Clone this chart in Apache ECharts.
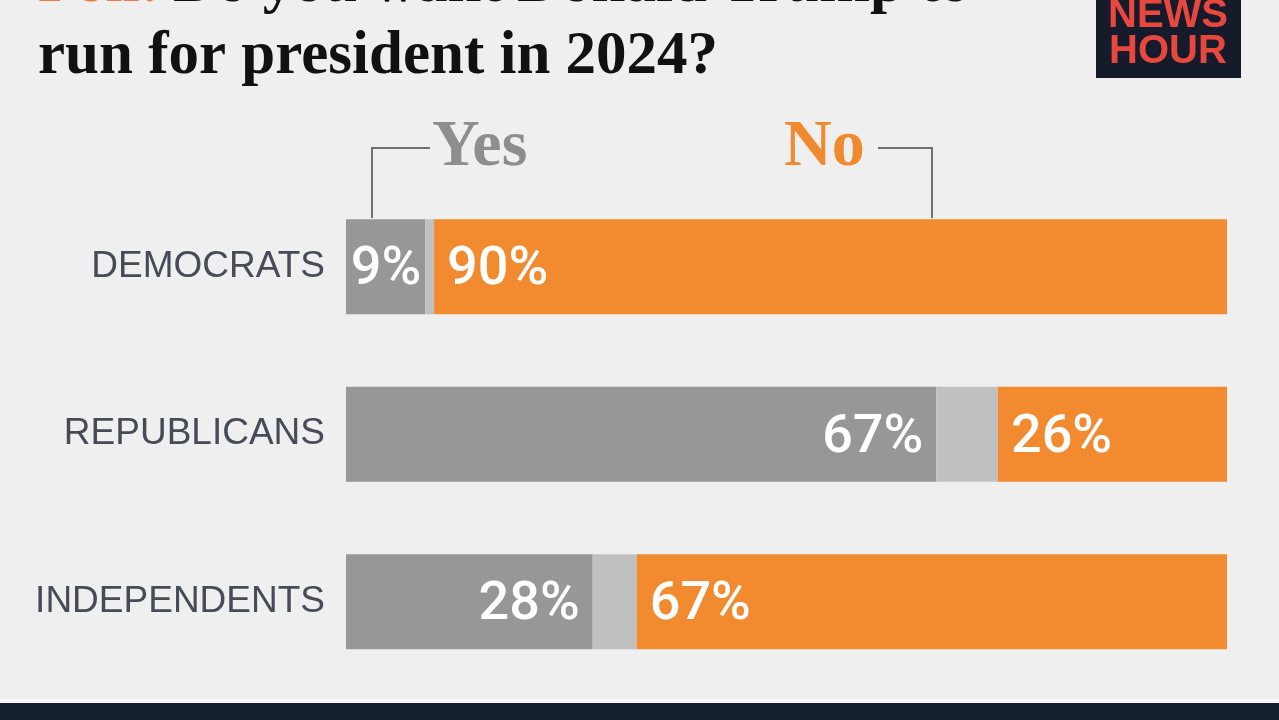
<!DOCTYPE html>
<html>
<head>
<meta charset="utf-8">
<script src="https://cdn.jsdelivr.net/npm/echarts@6/dist/echarts.min.js"></script>
<style>
html,body{margin:0;padding:0;background:#efefef;}
#chart{width:1279px;height:720px;}
</style>
</head>
<body>
<div id="chart"></div>
<script>
const categories = ['DEMOCRATS', 'REPUBLICANS', 'INDEPENDENTS'];
const yesValues = [9, 67, 28];
const unsureValues = [1, 7, 5];
const noValues = [90, 26, 67];
const titleLine1Lead = 'Poll:';
const titleLine1Rest = 'Do you want Donald Trump to';
const titleLine2 = 'run for president in 2024?';

const chart = echarts.init(document.getElementById('chart'));

const labelFont = { color: '#ffffff', fontFamily: 'Roboto', fontWeight: 500, fontSize: 54, offset: [0, 4] };

const option = {
  backgroundColor: '#efefef',
  animation: false,
  grid: { left: 346, right: 52, top: 183, bottom: 34.5 },
  xAxis: { type: 'value', min: 0, max: 100, show: false },
  yAxis: {
    type: 'category',
    data: categories,
    inverse: true,
    axisLine: { show: false },
    axisTick: { show: false },
    axisLabel: { margin: 21, color: '#464b58', fontFamily: 'Liberation Sans', fontSize: 37 }
  },
  series: [
    {
      name: 'Yes', type: 'bar', stack: 't', barWidth: 95,
      itemStyle: { color: '#979797' },
      data: yesValues.map((v, i) => ({ value: v, label: { distance: i === 0 ? 4 : 13 } })),
      label: Object.assign({ show: true, position: 'insideRight', formatter: '{c}%' }, labelFont)
    },
    {
      name: 'Unsure', type: 'bar', stack: 't', barWidth: 95,
      itemStyle: { color: '#c0c0c0' },
      data: unsureValues
    },
    {
      name: 'No', type: 'bar', stack: 't', barWidth: 95,
      itemStyle: { color: '#f28b30' },
      data: noValues,
      label: Object.assign({ show: true, position: 'insideLeft', distance: 13, formatter: '{c}%' }, labelFont)
    }
  ],
  graphic: [
    // title
    { type: 'text', left: 38, top: -45, style: { text: titleLine1Lead, font: 'bold 61px "Liberation Serif"', fill: '#f07a3a' } },
    { type: 'text', left: 173, top: -45, style: { text: titleLine1Rest, font: 'bold 61px "Liberation Serif"', fill: '#111111' } },
    { type: 'text', left: 38, top: 27, style: { text: titleLine2, font: 'bold 61px "Liberation Serif"', fill: '#111111' } },
    // logo
    { type: 'rect', shape: { x: 1096, y: -10, width: 145, height: 88 }, style: { fill: '#161b2b' } },
    { type: 'text', x: 1168, y: 16, style: { text: 'NEWS', font: 'bold 40px "Liberation Sans"', fill: '#e8473d', align: 'center', verticalAlign: 'middle' } },
    { type: 'text', x: 1168, y: 52, style: { text: 'HOUR', font: 'bold 40px "Liberation Sans"', fill: '#e8473d', align: 'center', verticalAlign: 'middle' } },
    // brackets
    { type: 'polyline', shape: { points: [[372, 218], [372, 148], [430, 148]] }, style: { stroke: '#707070', lineWidth: 2, fill: null } },
    { type: 'polyline', shape: { points: [[878, 148], [932, 148], [932, 218]] }, style: { stroke: '#707070', lineWidth: 2, fill: null } },
    { type: 'text', x: 432, y: 148, style: { text: 'Yes', font: 'bold 66px "Liberation Serif"', fill: '#8e8e8e', verticalAlign: 'middle' } },
    { type: 'text', x: 784, y: 148, style: { text: 'No', font: 'bold 66px "Liberation Serif"', fill: '#f08a2e', verticalAlign: 'middle' } },
    // footer band
    { type: 'rect', shape: { x: 0, y: 699, width: 1279, height: 4 }, style: { fill: '#f9f9f9' } },
    { type: 'rect', shape: { x: 0, y: 703, width: 1279, height: 17 }, style: { fill: '#172030' } }
  ]
};
chart.setOption(option);
</script>
</body>
</html>
